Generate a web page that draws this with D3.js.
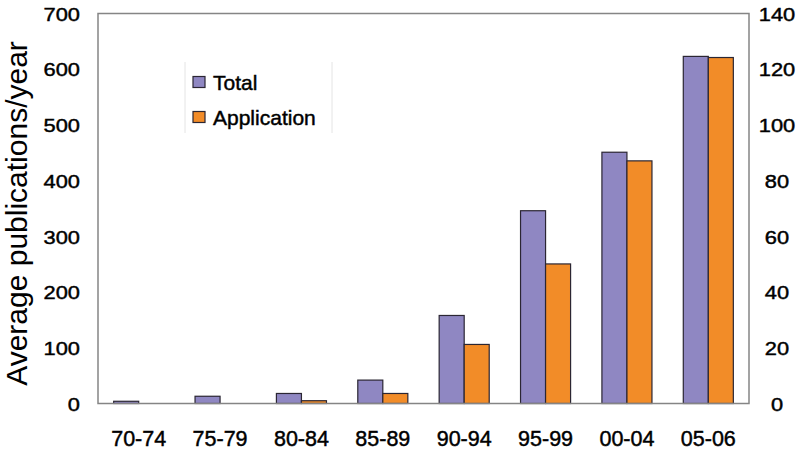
<!DOCTYPE html>
<html><head><meta charset="utf-8">
<script src="https://cdn.jsdelivr.net/npm/d3@7"></script>
<style>body{margin:0;background:#fff}svg{display:block}text{font-family:"Liberation Sans",Arial,sans-serif;fill:#000}</style>
</head><body><svg id="c" width="800" height="451"></svg>
<script>
const categories = ["70-74","75-79","80-84","85-89","90-94","95-99","00-04","05-06"];
const totalValues = [4, 13, 18, 42, 158, 346, 451, 623];      // left axis
const applicationValues = [0, 0, 1, 3.6, 21.2, 50.1, 87.1, 124.2]; // right axis
const leftTicks = [0,100,200,300,400,500,600,700];
const rightTicks = [0,20,40,60,80,100,120,140];
const seriesNames = ["Total","Application"];
const colors = ["#8f87c2","#f28c28"];

const svg = d3.select("#c");
const L = 98, R = 749, T = 13.5, B = 403.5;

const x0 = d3.scaleBand().domain(categories).range([L,R]).paddingInner(0.385).paddingOuter(0.1925);
const x1 = d3.scaleBand().domain(seriesNames).range([0,x0.bandwidth()]);
const yL = d3.scaleLinear().domain([0,700]).range([B,T]);
const yR = d3.scaleLinear().domain([0,140]).range([B,T]);

// bars
const g = svg.append("g");
categories.forEach((c,i)=>{
  const vals = [{s:"Total",v:totalValues[i],y:yL,col:colors[0]},{s:"Application",v:applicationValues[i],y:yR,col:colors[1]}];
  vals.forEach(d=>{
    if(d.v<=0) return;
    g.append("rect")
      .attr("x", x0(c)+x1(d.s))
      .attr("y", d.y(d.v))
      .attr("width", x1.bandwidth())
      .attr("height", B - d.y(d.v))
      .attr("fill", d.col)
      .attr("stroke","#2b2633").attr("stroke-width",1.2);
  });
});

// frame
svg.append("rect").attr("x",L).attr("y",T).attr("width",R-L).attr("height",B-T)
  .attr("fill","none").attr("stroke","#858585").attr("stroke-width",1.5);

const bold = sel => sel.style("stroke","#000").style("stroke-width","0.45px");

// left axis
const la = svg.append("g").attr("transform",`translate(${L},0)`)
  .call(d3.axisLeft(yL).tickValues(leftTicks).tickSize(0).tickPadding(18));
la.select(".domain").remove();
la.selectAll("text").style("font-size","19px").attr("dy","0.35em")
  .attr("x",-18/1.15).attr("transform","scale(1.15,1)").call(bold);

// right axis
const ra = svg.append("g").attr("transform",`translate(${R},0)`)
  .call(d3.axisRight(yR).tickValues(rightTicks).tickSize(0).tickPadding(28));
ra.select(".domain").remove();
ra.selectAll("text").style("font-size","19px").attr("text-anchor","middle").attr("dy","0.35em")
  .attr("x",28/1.15).attr("transform","scale(1.15,1)").call(bold);

// x axis labels
const xa = svg.append("g").attr("transform",`translate(0,${B})`)
  .call(d3.axisBottom(x0).tickSize(0).tickPadding(27));
xa.select(".domain").remove();
xa.selectAll("text").style("font-size","21.5px").call(bold);

// y title
svg.append("text").attr("transform","translate(27,213.5) rotate(-90)")
  .attr("text-anchor","middle").style("font-size","30px").text("Average publications/year");

// legend
const lg = svg.append("g");
lg.append("line").attr("x1",185).attr("x2",185).attr("y1",62).attr("y2",133).attr("stroke","#e4e4e4");
lg.append("line").attr("x1",332).attr("x2",332).attr("y1",62).attr("y2",133).attr("stroke","#e4e4e4");
seriesNames.forEach((s,i)=>{
  const yy = 82 + i*35;
  lg.append("rect").attr("x",193).attr("y",yy-5.5).attr("width",12).attr("height",11)
    .attr("fill",colors[i]).attr("stroke","#2b2633").attr("stroke-width",1.2);
  lg.append("text").attr("x",213).attr("y",yy).attr("dy","0.36em").style("font-size","21px").call(bold).text(s);
});
</script></body></html>
